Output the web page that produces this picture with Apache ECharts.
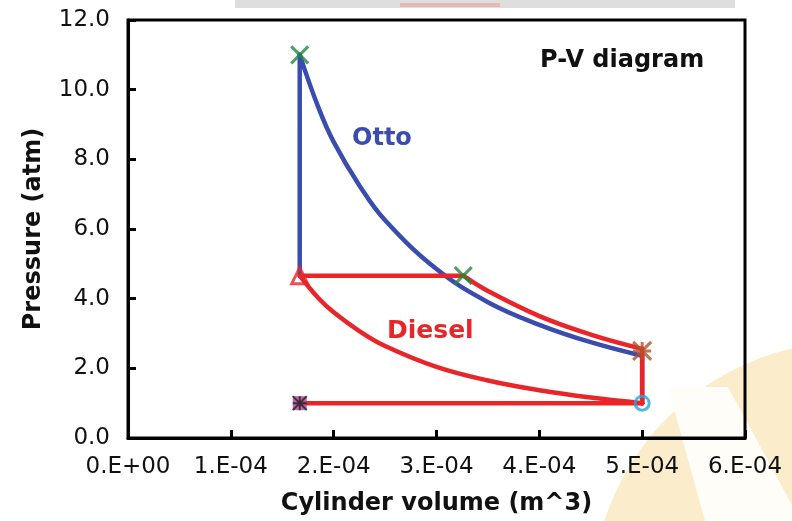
<!DOCTYPE html>
<html>
<head>
<meta charset="utf-8">
<script src="https://cdn.jsdelivr.net/npm/echarts@6/dist/echarts.min.js"></script>
<style>
  html, body { margin: 0; padding: 0; background: #fff; }
  #chart { width: 792px; height: 521px; }
</style>
</head>
<body>
<div id="chart"></div>
<script>
  // Otto cycle: constant volume heating + expansion
  const ottoHeatV = [1.67e-4, 1.67e-4]
  const ottoHeatP = [4.66, 11.0]
  const ottoExpV = [1.67e-4, 1.85e-4, 2.0e-4, 2.25e-4, 2.5e-4, 3.0e-4, 3.5e-4, 4.0e-4, 4.5e-4, 5.0e-4]
  const ottoExpP = [11.0, 9.5, 8.5, 7.25, 6.25, 4.85, 3.9, 3.25, 2.75, 2.36]
  const ottoRejV = [5.0e-4, 5.0e-4]
  const ottoRejP = [2.36, 1.0]

  // Diesel cycle: compression, constant pressure, expansion, rejection, exhaust
  const dieselCompV = [5.0e-4, 4.5e-4, 4.0e-4, 3.5e-4, 3.0e-4, 2.5e-4, 2.25e-4, 2.0e-4, 1.85e-4, 1.67e-4]
  const dieselCompP = [1.0, 1.16, 1.37, 1.65, 2.04, 2.64, 3.07, 3.61, 4.02, 4.66]
  const dieselHeatV = [1.67e-4, 3.26e-4]
  const dieselHeatP = [4.66, 4.66]
  const dieselExpV = [3.26e-4, 3.5e-4, 4.0e-4, 4.5e-4, 5.0e-4]
  const dieselExpP = [4.66, 4.22, 3.5, 2.97, 2.56]
  const dieselRejV = [5.0e-4, 5.0e-4]
  const dieselRejP = [2.56, 1.0]
  const exhaustV = [5.0e-4, 1.67e-4]
  const exhaustP = [1.0, 1.0]

  // state point markers
  const crossPts = [[1.67e-4, 11.0], [3.26e-4, 4.66]]
  const trianglePts = [[1.67e-4, 4.66]]
  const starPts = [[5.0e-4, 2.5]]
  const circlePts = [[5.0e-4, 1.0]]
  const squarePts = [[1.67e-4, 1.0]]

  const BLUE = '#3a4cae'
  const RED = '#e8262a'
  const FONT = 'DejaVu Sans'

  const zip = (xs, ys) => xs.map((x, i) => [x, ys[i]])

  const lineSeries = (xs, ys, color, smooth) => ({
    type: 'line',
    data: zip(xs, ys),
    showSymbol: false,
    smooth: smooth ? 0.4 : false,
    lineStyle: { color: color, width: 4.5, cap: 'round', join: 'round' },
    itemStyle: { color: color },
    silent: true,
    z: 3
  })

  const fmtSci = v => {
    if (Math.abs(v) < 1e-12) return '0.E+00'
    const e = Math.floor(Math.log10(v) + 1e-9)
    const m = Math.round(v / Math.pow(10, e))
    return m + '.E' + (e < 0 ? '-' : '+') + String(Math.abs(e)).padStart(2, '0')
  }

  const chart = echarts.init(document.getElementById('chart'))
  const option = {
    animation: false,
    backgroundColor: '#fff',
    grid: {
      left: 128, right: 47, top: 20, bottom: 80,
      show: true, borderColor: '#000', borderWidth: 3, backgroundColor: 'transparent'
    },
    xAxis: {
      type: 'value',
      min: 0, max: 6e-4, interval: 1e-4,
      name: 'Cylinder volume (m^3)',
      nameLocation: 'middle',
      nameGap: 54,
      nameTextStyle: { fontFamily: FONT, fontSize: 24, fontWeight: 'bold', color: '#111' },
      axisLine: { lineStyle: { color: '#000', width: 3 } },
      axisTick: { inside: true, length: 8, lineStyle: { color: '#000', width: 3 } },
      axisLabel: { formatter: fmtSci, fontFamily: FONT, fontSize: 23, color: '#111', margin: 18 },
      splitLine: { show: false }
    },
    yAxis: {
      type: 'value',
      min: 0, max: 12, interval: 2,
      name: 'Pressure (atm)',
      nameLocation: 'middle',
      nameGap: 82,
      nameTextStyle: { fontFamily: FONT, fontSize: 24, fontWeight: 'bold', color: '#111' },
      axisLine: { lineStyle: { color: '#000', width: 3 } },
      axisTick: { inside: true, length: 8, lineStyle: { color: '#000', width: 3 } },
      axisLabel: { formatter: v => v.toFixed(1), fontFamily: FONT, fontSize: 23, color: '#111', margin: 18 },
      splitLine: { show: false }
    },
    graphic: [
      // faint logo watermark in the lower right corner
      { type: 'circle', shape: { cx: 850, cy: 600, r: 258 }, style: { fill: '#fbeccb' }, z: -100, silent: true },
      { type: 'polygon', shape: { points: [[668, 387], [728, 387], [792, 505], [792, 521], [705, 521]] },
        style: { fill: '#fffdf8' }, z: -99, silent: true },
      // cropped banner at top
      { type: 'rect', shape: { x: 235, y: 0, width: 500, height: 8 }, style: { fill: '#dedede' }, z: -100, silent: true },
      { type: 'rect', shape: { x: 400, y: 3, width: 100, height: 4 }, style: { fill: '#e9b7b7' }, z: -99, silent: true },
      { type: 'text', left: 540, top: 49, style: { text: 'P-V diagram', font: 'bold 24px "DejaVu Sans"', fill: '#111' } },
      { type: 'text', left: 352, top: 127, style: { text: 'Otto', font: 'bold 24px "DejaVu Sans"', fill: BLUE } },
      { type: 'text', left: 387, top: 319, style: { text: 'Diesel', font: 'bold 25px "DejaVu Sans"', fill: RED } }
    ],
    series: [
      lineSeries(ottoHeatV, ottoHeatP, BLUE, false),
      lineSeries(ottoExpV, ottoExpP, BLUE, true),
      lineSeries(ottoRejV, ottoRejP, BLUE, false),
      lineSeries(dieselCompV, dieselCompP, RED, true),
      lineSeries(dieselHeatV, dieselHeatP, RED, false),
      lineSeries(dieselExpV, dieselExpP, RED, true),
      lineSeries(dieselRejV, dieselRejP, RED, false),
      lineSeries(exhaustV, exhaustP, RED, false),
      {
        type: 'scatter', data: squarePts, symbol: 'rect', symbolSize: 14,
        itemStyle: { color: '#b04a9a', opacity: 0.85 }, z: 5, silent: true
      },
      {
        type: 'scatter', data: squarePts, symbolSize: 14,
        symbol: 'path://M0,0L10,10M10,0L0,10M5,0L5,10M0,5L10,5',
        itemStyle: { color: 'none', borderColor: '#222', borderWidth: 2 }, z: 6, silent: true
      },
      {
        type: 'scatter', data: crossPts, symbolSize: 17,
        symbol: 'path://M0,0L10,10M10,0L0,10',
        itemStyle: { color: 'none', borderColor: '#1f8a3c', borderWidth: 3 }, z: 6, silent: true
      },
      {
        type: 'scatter', data: trianglePts, symbol: 'triangle', symbolSize: 16,
        itemStyle: { color: 'none', borderColor: RED, borderWidth: 3 }, z: 6, silent: true
      },
      {
        type: 'scatter', data: starPts, symbolSize: 18,
        symbol: 'path://M0,0L10,10M10,0L0,10M5,0L5,10M0,5L10,5',
        itemStyle: { color: 'none', borderColor: '#b4512a', borderWidth: 3 }, z: 6, silent: true
      },
      {
        type: 'scatter', data: circlePts, symbol: 'circle', symbolSize: 14,
        itemStyle: { color: 'none', borderColor: '#2aa3dd', borderWidth: 3 }, z: 6, silent: true
      }
    ]
  }
  chart.setOption(option)
</script>
</body>
</html>
